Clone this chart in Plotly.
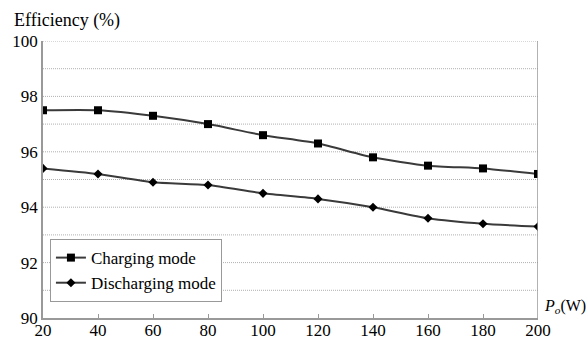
import plotly.graph_objects as go

power = [20, 40, 60, 80, 100, 120, 140, 160, 180, 200]
charging = [97.5, 97.5, 97.3, 97.0, 96.6, 96.3, 95.8, 95.5, 95.4, 95.2]
discharging = [95.4, 95.2, 94.9, 94.8, 94.5, 94.3, 94.0, 93.6, 93.4, 93.3]
y_ticks = [90, 92, 94, 96, 98, 100]
x_ticks = [20, 40, 60, 80, 100, 120, 140, 160, 180, 200]

font = "Liberation Serif"

fig = go.Figure()
fig.add_trace(go.Scatter(
    x=power, y=charging, name="Charging mode", mode="lines+markers",
    line=dict(color="#3a3a3a", width=2, shape="spline", smoothing=0.6),
    marker=dict(symbol="square", size=8, color="black"),
))
fig.add_trace(go.Scatter(
    x=power, y=discharging, name="Discharging mode", mode="lines+markers",
    line=dict(color="#3a3a3a", width=2, shape="spline", smoothing=0.6),
    marker=dict(symbol="diamond", size=7, color="black"),
))

fig.update_layout(
    width=588, height=339,
    margin=dict(l=43, r=50, t=41, b=21),
    paper_bgcolor="white", plot_bgcolor="white",
    font=dict(family=font, size=17, color="black"),
    showlegend=True,
    legend=dict(
        x=0.014, y=0.285, xanchor="left", yanchor="top",
        bordercolor="#999999", borderwidth=1, bgcolor="white",
        font=dict(family=font, size=17, color="black"), tracegroupgap=2,
    ),
    xaxis=dict(
        range=[20, 200], tickvals=x_ticks, showgrid=False, automargin=False,
        showline=True, linecolor="#999999", linewidth=1.5,
        ticks="inside", ticklen=4, tickcolor="#999999",
        mirror=False, zeroline=False, ticklabelstandoff=-4,
        tickfont=dict(family=font, size=17, color="black"),
    ),
    yaxis=dict(
        range=[90, 100], tickvals=y_ticks, showgrid=False, automargin=False,
        showline=True, linecolor="#999999", linewidth=1.5,
        ticks="", zeroline=False,
        tickfont=dict(family=font, size=17, color="black"),
    ),
)

# dotted grid every 1 %
for v in range(91, 101):
    fig.add_shape(type="line", xref="x", yref="y", x0=20, x1=200, y0=v, y1=v,
                  line=dict(color="#b0b0b0", width=1, dash="1px,1px"), layer="below")
# right boundary line
fig.add_shape(type="line", xref="x", yref="y", x0=200, x1=200, y0=90, y1=100,
              line=dict(color="#999999", width=1.5))

fig.add_annotation(text="Efficiency (%)", xref="paper", yref="paper",
                   x=-0.0625, y=1.0, yshift=21, xanchor="left", yanchor="middle",
                   showarrow=False, font=dict(family=font, size=18, color="black"))
fig.add_annotation(text="<i>P</i><sub><i>o</i></sub>(W)", xref="paper", yref="paper",
                   x=1.0, y=0.0, xshift=4, yshift=12, xanchor="left", yanchor="middle",
                   showarrow=False, font=dict(family=font, size=16, color="black"))

# remove the browser's default 8px body margin so the 588x339 figure fills the window
fig.write_html("out.html", config={"displayModeBar": False},
               post_script="document.body.style.margin='0';document.body.style.overflow='hidden';")
